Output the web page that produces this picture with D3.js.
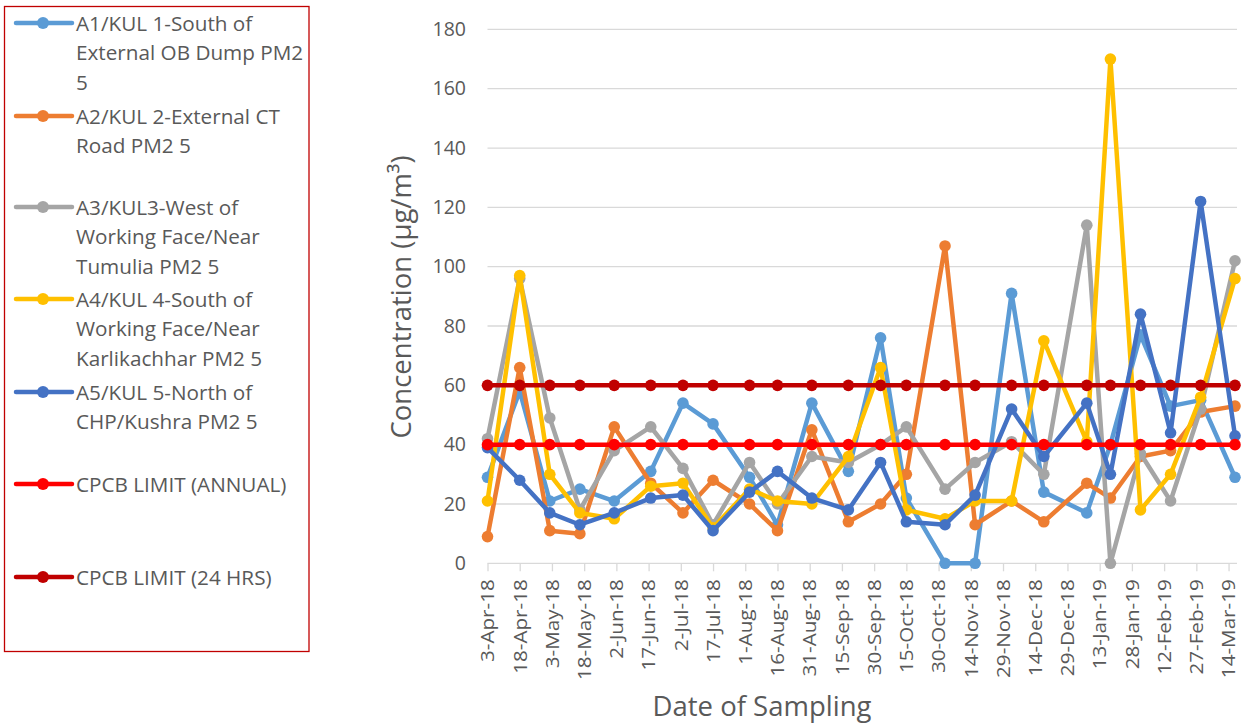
<!DOCTYPE html>
<html><head><meta charset="utf-8">
<script src="https://cdn.jsdelivr.net/npm/d3@7"></script>
<style>body{margin:0;background:#fff}svg{display:block}</style>
</head><body><svg id="c" width="1241" height="725"></svg>
<script>
const sampleDates = ["2018-04-03","2018-04-18","2018-05-02","2018-05-16","2018-06-01","2018-06-18","2018-07-03","2018-07-17","2018-08-03","2018-08-16","2018-09-01","2018-09-18","2018-10-03","2018-10-15","2018-11-02","2018-11-16","2018-12-03","2018-12-18","2019-01-07","2019-01-18","2019-02-01","2019-02-15","2019-03-01","2019-03-17"];
const a1 = [29,58,21,25,21,31,54,47,29,13,54,31,76,22,0,0,91,24,17,40,77,53,55,29];
const a2 = [9,66,11,10,46,27,17,28,20,11,45,14,20,30,107,13,21,14,27,22,36,38,51,53];
const a3 = [42,96,49,18,38,46,32,13,34,20,36,34,40,46,25,34,41,30,114,0,37,21,52,102];
const a4 = [21,97,30,17,15,26,27,12,25,21,20,36,66,18,15,21,21,75,41,170,18,30,56,96];
const a5 = [39,28,17,13,17,22,23,11,24,31,22,18,34,14,13,23,52,36,54,30,84,44,122,43];
const annualLimit = [40,40,40,40,40,40,40,40,40,40,40,40,40,40,40,40,40,40,40,40,40,40,40,40];
const dailyLimit = [60,60,60,60,60,60,60,60,60,60,60,60,60,60,60,60,60,60,60,60,60,60,60,60];
const seriesNames = ["A1/KUL 1-South of External OB Dump PM2 5","A2/KUL 2-External CT Road PM2 5","A3/KUL3-West of Working Face/Near Tumulia PM2 5","A4/KUL 4-South of Working Face/Near Karlikachhar PM2 5","A5/KUL 5-North of CHP/Kushra PM2 5","CPCB LIMIT (ANNUAL)","CPCB LIMIT (24 HRS)"];
const tickLabels = ["3-Apr-18","18-Apr-18","3-May-18","18-May-18","2-Jun-18","17-Jun-18","2-Jul-18","17-Jul-18","1-Aug-18","16-Aug-18","31-Aug-18","15-Sep-18","30-Sep-18","15-Oct-18","30-Oct-18","14-Nov-18","29-Nov-18","14-Dec-18","29-Dec-18","13-Jan-19","28-Jan-19","12-Feb-19","27-Feb-19","14-Mar-19"];
const yTicks = [0,20,40,60,80,100,120,140,160,180];

const colors = ["#5B9BD5","#ED7D31","#A5A5A5","#FFC000","#4472C4","#FF0000","#C00000"];
const legendLines = [
  ["A1/KUL 1-South of","External OB Dump PM2","5"],
  ["A2/KUL 2-External CT","Road PM2 5"],
  ["A3/KUL3-West of","Working Face/Near","Tumulia PM2 5"],
  ["A4/KUL 4-South of","Working Face/Near","Karlikachhar PM2 5"],
  ["A5/KUL 5-North of","CHP/Kushra PM2 5"],
  ["CPCB LIMIT (ANNUAL)"],
  ["CPCB LIMIT (24 HRS)"]
];
const legendY = [23, 116, 207, 299, 392, 484, 577];

const FONT = "'Open Sans', sans-serif";
const TXT = "#595959";
const svg = d3.select("#c");
const parseISO = d3.utcParse("%Y-%m-%d");
const parseTick = d3.utcParse("%d-%b-%y");
const dates = sampleDates.map(parseISO);
const tickDates = tickLabels.map(parseTick);

const x = d3.scaleUtc().domain([dates[0], dates[dates.length-1]]).range([487.5, 1235]);
const y = d3.scaleLinear().domain([0,180]).range([563.3, 29.4]);

// gridlines
svg.append("g").selectAll("line").data(yTicks.filter(d=>d>0)).join("line")
  .attr("x1",487.5).attr("x2",1237).attr("y1",d=>y(d)).attr("y2",d=>y(d))
  .attr("stroke","#D9D9D9").attr("stroke-width",1.3);

// x axis
const xAxis = d3.axisBottom(x).tickValues(tickDates).tickSize(8).tickFormat((d,i)=>tickLabels[i]);
const gx = svg.append("g").attr("transform",`translate(0,${y(0)})`).call(xAxis);
gx.select(".domain").attr("stroke","#D9D9D9").attr("stroke-width",1.3).attr("d",`M487.5,0H1237`);
gx.selectAll(".tick line").attr("stroke","#D9D9D9").attr("stroke-width",1.3);
gx.selectAll(".tick text").attr("fill",TXT).style("font-family",FONT).style("font-size","17.5px")
  .attr("text-anchor","end").attr("transform","rotate(-90) scale(1.18,1)").attr("x",-13.5).attr("y",0).attr("dy","0.36em");

// y axis labels
const yAxis = d3.axisLeft(y).tickValues(yTicks).tickSize(0).tickPadding(0);
const gy = svg.append("g").attr("transform","translate(466,0)").call(yAxis);
gy.select(".domain").remove();
gy.selectAll(".tick text").attr("fill",TXT).style("font-family",FONT).style("font-size","19.5px");

// series
const allSeries = [a1,a2,a3,a4,a5,annualLimit,dailyLimit];
const line = d3.line().x((d,i)=>x(dates[i])).y(d=>y(d));
allSeries.forEach((s,k)=>{
  const g = svg.append("g");
  g.append("path").datum(s).attr("d",line).attr("fill","none").attr("stroke",colors[k])
    .attr("stroke-width",4.5).attr("stroke-linejoin","round");
  g.selectAll("circle").data(s).join("circle").attr("cx",(d,i)=>x(dates[i])).attr("cy",d=>y(d))
    .attr("r",5.8).attr("fill",colors[k]);
});

// axis titles
svg.append("text").attr("transform","translate(411,297) rotate(-90)").attr("text-anchor","middle")
  .attr("fill",TXT).style("font-family",FONT).style("font-size","27.5px").text("Concentration (µg/m³)");
svg.append("text").attr("x",762).attr("y",716).attr("text-anchor","middle")
  .attr("fill",TXT).style("font-family",FONT).style("font-size","27.5px").text("Date of Sampling");

// legend
svg.append("rect").attr("x",4.5).attr("y",6.5).attr("width",304.5).attr("height",645)
  .attr("fill","none").attr("stroke","#C00000").attr("stroke-width",1.3);
const lg = svg.append("g").selectAll("g").data(seriesNames).join("g")
  .attr("transform",(d,i)=>`translate(0,${legendY[i]})`);
lg.append("line").attr("x1",16).attr("x2",72).attr("y1",0).attr("y2",0)
  .attr("stroke",(d,i)=>colors[i]).attr("stroke-width",4.5).attr("stroke-linecap","round");
lg.append("circle").attr("cx",43).attr("cy",0).attr("r",6).attr("fill",(d,i)=>colors[i]);
lg.each(function(d,i){
  const t = d3.select(this).append("text").attr("fill",TXT).style("font-family",FONT).style("font-size","20.7px");
  legendLines[i].forEach((s,j)=>{
    t.append("tspan").attr("x",76).attr("y",7.5 + j*29.5).text(s);
  });
});
</script>
</body></html>
